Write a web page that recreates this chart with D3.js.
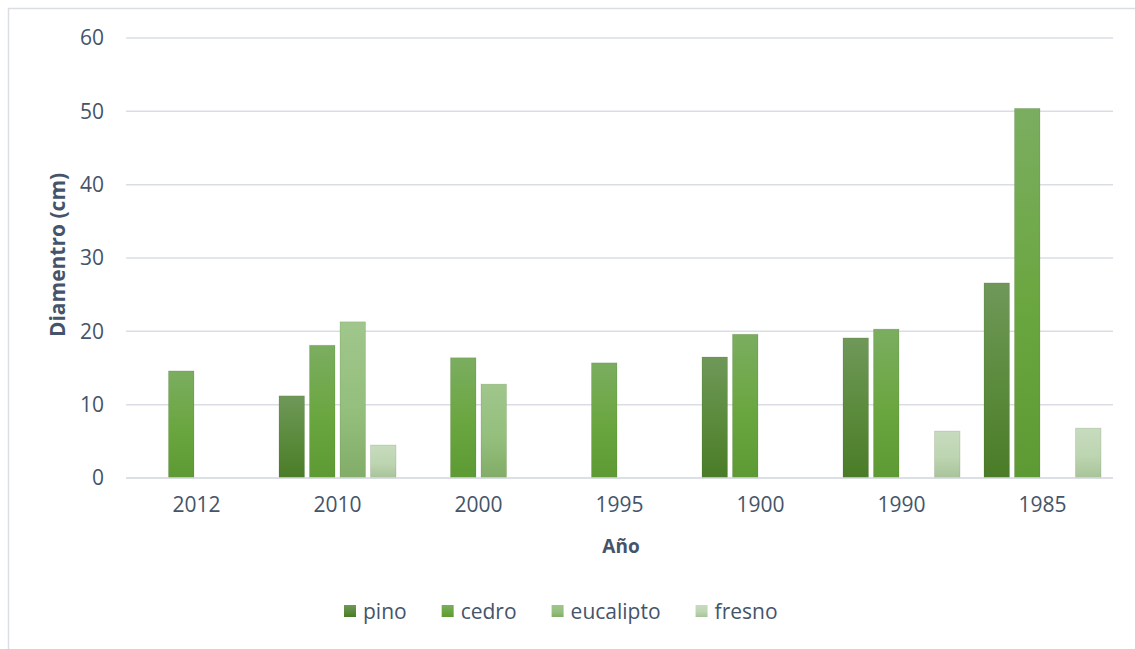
<!DOCTYPE html>
<html>
<head>
<meta charset="utf-8">
<script src="https://cdn.jsdelivr.net/npm/d3@7"></script>
<style>
  html, body { margin: 0; padding: 0; background: #fff; }
  svg { display: block; }
</style>
</head>
<body>
<svg id="chart" width="1135" height="649"></svg>
<script>
// Diámetro de árboles por año de plantación
const years = ["2012", "2010", "2000", "1995", "1900", "1990", "1985"];
const species = ["pino", "cedro", "eucalipto", "fresno"];
const pino      = [null, 11.2, null, null, 16.5, 19.1, 26.6];
const cedro     = [14.6, 18.1, 16.4, 15.7, 19.6, 20.3, 50.4];
const eucalipto = [null, 21.3, 12.8, null, null, null, null];
const fresno    = [null, 4.5, null, null, null, 6.4, 6.8];
const yTicks = [0, 10, 20, 30, 40, 50, 60];

const seriesValues = { pino, cedro, eucalipto, fresno };

// gradient stops (top, middle, bottom) for each species
const shades = {
  pino:      ["#6f9859", "#5a8a3b", "#4a7c27"],
  cedro:     ["#7bad60", "#6aa63f", "#5e9a34"],
  eucalipto: ["#a0c68c", "#94bf7d", "#82ad68"],
  fresno:    ["#c7dbbe", "#bdd5b1", "#a8c39a"]
};

const textColor = "#44546a";
const gridColor = "#dadee4";
const font = "'Open Sans', 'DejaVu Sans', sans-serif";

const svg = d3.select("#chart");

// outer chart frame
svg.append("rect")
  .attr("x", 8.5).attr("y", 8.5)
  .attr("width", 1140).attr("height", 660)
  .attr("fill", "#fff")
  .attr("stroke", gridColor).attr("stroke-width", 1.5);

const defs = svg.append("defs");
species.forEach(s => {
  const g = defs.append("linearGradient")
    .attr("id", "grad-" + s)
    .attr("x1", 0).attr("y1", 0).attr("x2", 0).attr("y2", 1);
  g.append("stop").attr("offset", "0%").attr("stop-color", shades[s][0]);
  g.append("stop").attr("offset", "55%").attr("stop-color", shades[s][1]);
  g.append("stop").attr("offset", "100%").attr("stop-color", shades[s][2]);
});

const plot = { left: 126, right: 1113, top: 38, bottom: 478 };

const y = d3.scaleLinear().domain([0, 60]).range([plot.bottom, plot.top]);
const x0 = d3.scaleBand().domain(years).range([plot.left, plot.right]);
const x1 = d3.scaleBand().domain(species)
  .range([0, x0.bandwidth()])
  .paddingInner(0.164).paddingOuter(0.393);

// gridlines
svg.append("g")
  .selectAll("line")
  .data(yTicks)
  .join("line")
  .attr("x1", plot.left).attr("x2", plot.right)
  .attr("y1", d => y(d)).attr("y2", d => y(d))
  .attr("stroke", gridColor).attr("stroke-width", 1.5);

// y axis labels
const yAxis = svg.append("g")
  .attr("transform", `translate(${plot.left - 22},0)`)
  .call(d3.axisLeft(y).tickValues(yTicks).tickSize(0).tickPadding(0).tickFormat(d3.format("d")));
yAxis.select(".domain").remove();
yAxis.selectAll("text")
  .attr("fill", textColor)
  .style("font-family", font).style("font-size", "21px");

// x axis labels
const xAxis = svg.append("g")
  .attr("transform", `translate(0,${plot.bottom + 19})`)
  .call(d3.axisBottom(x0).tickSize(0).tickPadding(0));
xAxis.select(".domain").remove();
xAxis.selectAll("text")
  .attr("fill", textColor)
  .style("font-family", font).style("font-size", "21px");

// bars
const groups = svg.append("g")
  .selectAll("g")
  .data(years.map((yr, i) => ({ yr, i })))
  .join("g")
  .attr("transform", d => `translate(${x0(d.yr)},0)`);

groups.selectAll("rect")
  .data(d => species
    .map(s => ({ s, v: seriesValues[s][d.i] }))
    .filter(e => e.v !== null))
  .join("rect")
  .attr("x", d => x1(d.s))
  .attr("width", x1.bandwidth())
  .attr("y", d => y(d.v))
  .attr("height", d => y(0) - y(d.v))
  .attr("fill", d => `url(#grad-${d.s})`)
  .attr("stroke", "rgba(60,90,40,0.18)")
  .attr("stroke-width", 0.8);

// baseline drawn over the bar feet
svg.append("line")
  .attr("x1", plot.left).attr("x2", plot.right)
  .attr("y1", y(0)).attr("y2", y(0))
  .attr("stroke", gridColor).attr("stroke-width", 1.5);

// axis titles
svg.append("text")
  .attr("x", 621).attr("y", 553)
  .attr("text-anchor", "middle")
  .attr("fill", textColor)
  .style("font-family", font).style("font-size", "19px").style("font-weight", "bold")
  .text("Año");

svg.append("text")
  .attr("transform", "translate(65,255) rotate(-90)")
  .attr("text-anchor", "middle")
  .attr("fill", textColor)
  .style("font-family", font).style("font-size", "21px").style("font-weight", "bold")
  .text("Diamentro (cm)");

// legend
const legend = svg.append("g").attr("transform", "translate(344,611)");
const entries = legend.selectAll("g")
  .data(species)
  .join("g");
entries.append("rect")
  .attr("width", 12).attr("height", 12)
  .attr("y", -6)
  .attr("fill", d => `url(#grad-${d})`);
entries.append("text")
  .attr("x", 19).attr("y", 7.5)
  .attr("fill", textColor)
  .style("font-family", font).style("font-size", "21px")
  .text(d => d);

let cursor = 0;
const gap = 35;
entries.each(function () {
  const w = 19 + d3.select(this).select("text").node().getComputedTextLength();
  d3.select(this).attr("transform", `translate(${cursor},0)`);
  cursor += w + gap;
});
</script>
</body>
</html>
